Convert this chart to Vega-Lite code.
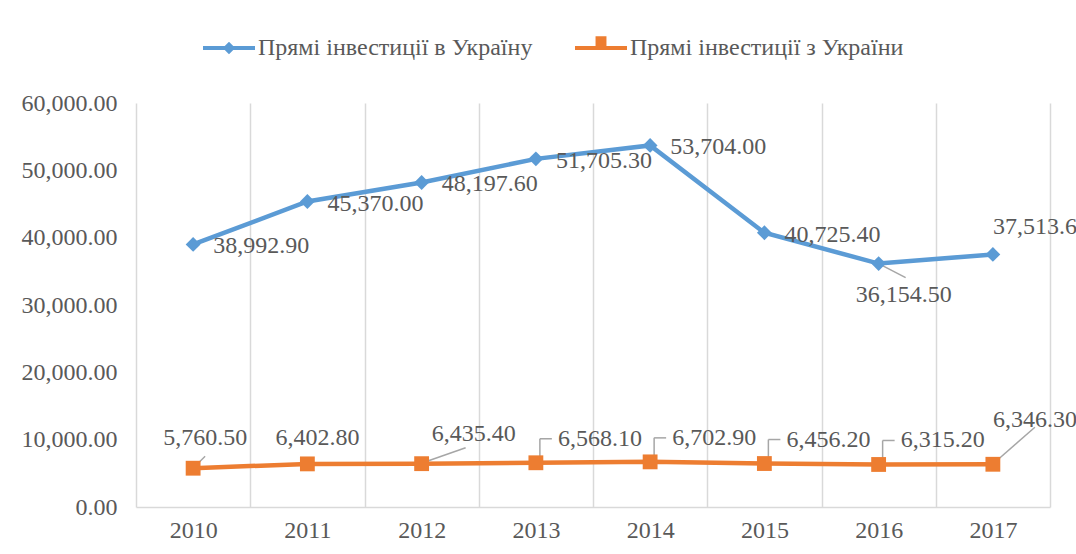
{
  "$schema": "https://vega.github.io/schema/vega-lite/v6.json",
  "width": 914,
  "height": 404,
  "autosize": "none",
  "padding": {"left": 136, "top": 103, "right": 26, "bottom": 47},
  "background": "white",
  "config": {
    "view": {"stroke": null},
    "font": "Liberation Serif",
    "text": {"font": "Liberation Serif", "fontSize": 24, "color": "#595959"}
  },
  "resolve": {"scale": {"shape": "independent"}, "legend": {"color": "independent", "shape": "independent"}},
  "data": {
    "values": [
      {"year": "2010", "series": "Прямі інвестиції в Україну", "value": 38992.9},
      {"year": "2011", "series": "Прямі інвестиції в Україну", "value": 45370.0},
      {"year": "2012", "series": "Прямі інвестиції в Україну", "value": 48197.6},
      {"year": "2013", "series": "Прямі інвестиції в Україну", "value": 51705.3},
      {"year": "2014", "series": "Прямі інвестиції в Україну", "value": 53704.0},
      {"year": "2015", "series": "Прямі інвестиції в Україну", "value": 40725.4},
      {"year": "2016", "series": "Прямі інвестиції в Україну", "value": 36154.5},
      {"year": "2017", "series": "Прямі інвестиції в Україну", "value": 37513.6},
      {"year": "2010", "series": "Прямі інвестиції з України", "value": 5760.5},
      {"year": "2011", "series": "Прямі інвестиції з України", "value": 6402.8},
      {"year": "2012", "series": "Прямі інвестиції з України", "value": 6435.4},
      {"year": "2013", "series": "Прямі інвестиції з України", "value": 6568.1},
      {"year": "2014", "series": "Прямі інвестиції з України", "value": 6702.9},
      {"year": "2015", "series": "Прямі інвестиції з України", "value": 6456.2},
      {"year": "2016", "series": "Прямі інвестиції з України", "value": 6315.2},
      {"year": "2017", "series": "Прямі інвестиції з України", "value": 6346.3}
    ]
  },
  "encoding": {
    "x": {
      "field": "year",
      "type": "ordinal",
      "bandPosition": 0.5,
      "scale": {"type": "band", "paddingInner": 0, "paddingOuter": 0},
      "axis": {
        "title": null,
        "labelAngle": 0,
        "labelFont": "Liberation Serif",
        "labelFontSize": 24,
        "labelColor": "#595959",
        "labelPadding": 11,
        "ticks": false,
        "tickBand": "extent",
        "grid": true,
        "gridColor": "#D9D9D9",
        "gridWidth": 1.5,
        "domain": true,
        "domainColor": "#D9D9D9",
        "domainWidth": 1.5
      }
    },
    "y": {
      "field": "value",
      "type": "quantitative",
      "scale": {"domain": [0, 60000]},
      "axis": {
        "title": null,
        "values": [0, 10000, 20000, 30000, 40000, 50000, 60000],
        "format": ",.2f",
        "labelFont": "Liberation Serif",
        "labelFontSize": 24,
        "labelColor": "#595959",
        "labelPadding": 19,
        "ticks": false,
        "grid": false,
        "domain": false
      }
    }
  },
  "layer": [
    {
      "mark": {"type": "line", "strokeWidth": 4.5},
      "encoding": {
        "color": {
          "field": "series",
          "type": "nominal",
          "scale": {"domain": ["Прямі інвестиції в Україну", "Прямі інвестиції з України"], "range": ["#5B9BD5", "#ED7D31"]},
          "legend": null
        }
      }
    },
    {
      "transform": [{"filter": {"and": [{"field": "series", "equal": "Прямі інвестиції з України"}, {"field": "year", "equal": "2010"}]}}],
      "mark": {"type": "rule", "color": "#A6A6A6", "strokeWidth": 1.5, "x2Offset": 12, "y2Offset": -12},
      "encoding": {"x2": {"field": "year", "bandPosition": 0.5}, "y2": {"field": "value"}}
    },
    {
      "transform": [{"filter": {"and": [{"field": "series", "equal": "Прямі інвестиції з України"}, {"field": "year", "equal": "2012"}]}}],
      "mark": {"type": "rule", "color": "#A6A6A6", "strokeWidth": 1.5, "xOffset": 4, "yOffset": -2, "x2Offset": 44, "y2Offset": -16},
      "encoding": {"x2": {"field": "year", "bandPosition": 0.5}, "y2": {"field": "value"}}
    },
    {
      "transform": [{"filter": {"and": [{"field": "series", "equal": "Прямі інвестиції з України"}, {"field": "year", "oneOf": ["2013", "2014", "2015", "2016"]}]}}],
      "mark": {"type": "rule", "color": "#A6A6A6", "strokeWidth": 1.5, "xOffset": 4, "y2Offset": -24},
      "encoding": {"y2": {"field": "value"}}
    },
    {
      "transform": [{"filter": {"and": [{"field": "series", "equal": "Прямі інвестиції з України"}, {"field": "year", "oneOf": ["2013", "2014", "2015", "2016"]}]}}],
      "mark": {"type": "rule", "color": "#A6A6A6", "strokeWidth": 1.5, "xOffset": 4, "x2Offset": 16, "yOffset": -24},
      "encoding": {"x2": {"field": "year", "bandPosition": 0.5}}
    },
    {
      "transform": [{"filter": {"and": [{"field": "series", "equal": "Прямі інвестиції з України"}, {"field": "year", "equal": "2017"}]}}],
      "mark": {"type": "rule", "color": "#A6A6A6", "strokeWidth": 1.5, "xOffset": 2, "yOffset": -2, "x2Offset": 42, "y2Offset": -37},
      "encoding": {"x2": {"field": "year", "bandPosition": 0.5}, "y2": {"field": "value"}}
    },
    {
      "transform": [{"filter": {"and": [{"field": "series", "equal": "Прямі інвестиції в Україну"}, {"field": "year", "equal": "2016"}]}}],
      "mark": {"type": "rule", "color": "#A6A6A6", "strokeWidth": 1.5, "x2Offset": 27, "y2Offset": 14},
      "encoding": {"x2": {"field": "year", "bandPosition": 0.5}, "y2": {"field": "value"}}
    },
    {
      "mark": {"type": "point", "filled": true, "size": 220, "opacity": 1},
      "encoding": {
        "color": {
          "field": "series",
          "type": "nominal",
          "scale": {"domain": ["Прямі інвестиції в Україну", "Прямі інвестиції з України"], "range": ["#5B9BD5", "#ED7D31"]},
          "legend": null
        },
        "shape": {
          "field": "series",
          "type": "nominal",
          "scale": {"domain": ["Прямі інвестиції в Україну", "Прямі інвестиції з України"], "range": ["diamond", "square"]},
          "legend": null
        }
      }
    },
    {
      "mark": {"type": "point", "filled": true, "opacity": 0},
      "encoding": {
        "color": {
          "field": "series",
          "type": "nominal",
          "scale": {"domain": ["Прямі інвестиції в Україну", "Прямі інвестиції з України"], "range": ["#5B9BD5", "#ED7D31"]},
          "legend": {
            "title": null,
            "orient": "none",
            "direction": "horizontal",
            "legendX": 67,
            "legendY": -81,
            "symbolSize": 2704,
            "symbolOpacity": 1,
            "symbolStrokeWidth": 0,
            "labelFont": "Liberation Serif",
            "labelFontSize": 24,
            "labelColor": "#595959",
            "labelLimit": 600,
            "labelOffset": 3,
            "columnPadding": 42
          }
        },
        "shape": {
          "field": "series",
          "type": "nominal",
          "scale": {"domain": ["Прямі інвестиції в Україну", "Прямі інвестиції з України"], "range": ["M-1,-0.08H1V0.08H-1ZM0,-0.24L0.24,0L0,0.24L-0.24,0Z", "M-1,-0.08H1V0.08H-1ZM-0.21,-0.45H0.21V0H-0.21Z"]},
          "legend": {
            "title": null,
            "orient": "none",
            "direction": "horizontal",
            "legendX": 67,
            "legendY": -81,
            "symbolSize": 2704,
            "symbolOpacity": 1,
            "symbolStrokeWidth": 0,
            "labelFont": "Liberation Serif",
            "labelFontSize": 24,
            "labelColor": "#595959",
            "labelLimit": 600,
            "labelOffset": 3,
            "columnPadding": 42
          }
        }
      }
    },
    {
      "transform": [{"filter": {"and": [{"field": "series", "equal": "Прямі інвестиції в Україну"}, {"field": "year", "oneOf": ["2010", "2011", "2012", "2013", "2014", "2015"]}]}}],
      "mark": {"type": "text", "align": "left", "baseline": "middle", "dx": 20, "dy": 2},
      "encoding": {"text": {"field": "value", "type": "quantitative", "format": ",.2f"}}
    },
    {
      "transform": [{"filter": {"and": [{"field": "series", "equal": "Прямі інвестиції в Україну"}, {"field": "year", "equal": "2016"}]}}],
      "mark": {"type": "text", "align": "left", "baseline": "middle", "dx": -23, "dy": 31},
      "encoding": {"text": {"field": "value", "type": "quantitative", "format": ",.2f"}}
    },
    {
      "transform": [{"filter": {"and": [{"field": "series", "equal": "Прямі інвестиції в Україну"}, {"field": "year", "equal": "2017"}]}}],
      "mark": {"type": "text", "align": "left", "baseline": "middle", "dx": 0, "dy": -27},
      "encoding": {"text": {"field": "value", "type": "quantitative", "format": ",.2f"}}
    },
    {
      "transform": [{"filter": {"and": [{"field": "series", "equal": "Прямі інвестиції з України"}, {"field": "year", "equal": "2010"}]}}],
      "mark": {"type": "text", "align": "center", "baseline": "middle", "dx": 12, "dy": -30},
      "encoding": {"text": {"field": "value", "type": "quantitative", "format": ",.2f"}}
    },
    {
      "transform": [{"filter": {"and": [{"field": "series", "equal": "Прямі інвестиції з України"}, {"field": "year", "equal": "2011"}]}}],
      "mark": {"type": "text", "align": "center", "baseline": "middle", "dx": 10, "dy": -26},
      "encoding": {"text": {"field": "value", "type": "quantitative", "format": ",.2f"}}
    },
    {
      "transform": [{"filter": {"and": [{"field": "series", "equal": "Прямі інвестиції з України"}, {"field": "year", "equal": "2012"}]}}],
      "mark": {"type": "text", "align": "left", "baseline": "middle", "dx": 10, "dy": -30},
      "encoding": {"text": {"field": "value", "type": "quantitative", "format": ",.2f"}}
    },
    {
      "transform": [{"filter": {"and": [{"field": "series", "equal": "Прямі інвестиції з України"}, {"field": "year", "oneOf": ["2013", "2014", "2015", "2016"]}]}}],
      "mark": {"type": "text", "align": "left", "baseline": "middle", "dx": 22, "dy": -24},
      "encoding": {"text": {"field": "value", "type": "quantitative", "format": ",.2f"}}
    },
    {
      "transform": [{"filter": {"and": [{"field": "series", "equal": "Прямі інвестиції з України"}, {"field": "year", "equal": "2017"}]}}],
      "mark": {"type": "text", "align": "left", "baseline": "middle", "dx": 0, "dy": -44},
      "encoding": {"text": {"field": "value", "type": "quantitative", "format": ",.2f"}}
    }
  ]
}
